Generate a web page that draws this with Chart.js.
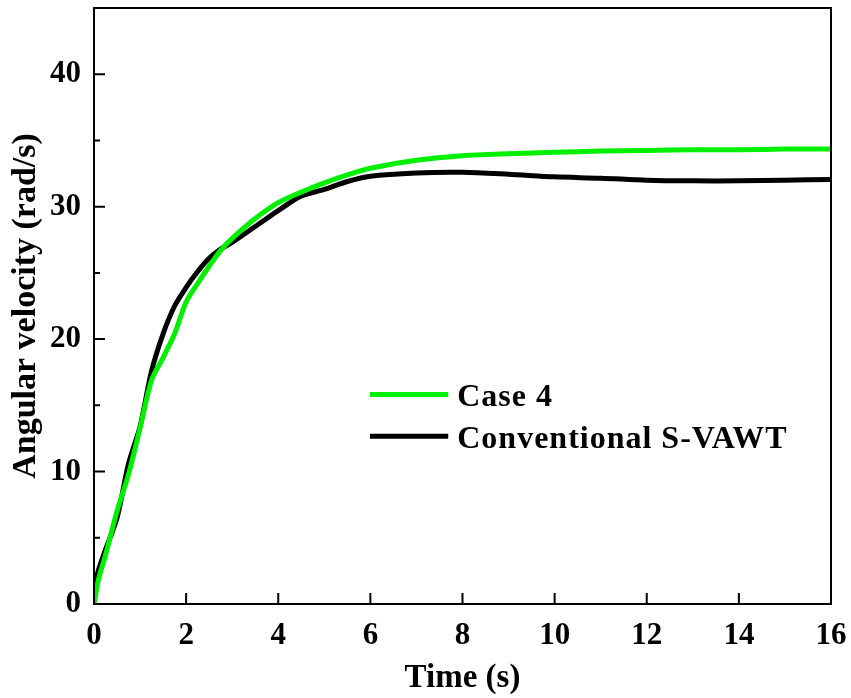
<!DOCTYPE html>
<html>
<head>
<meta charset="utf-8">
<script src="https://cdn.jsdelivr.net/npm/chart.js@4.4.1/dist/chart.umd.min.js"></script>
<style>
html,body{margin:0;padding:0;background:#fff;}
#wrap{width:851px;height:698px;}
</style>
</head>
<body>
<div id="wrap"><canvas id="c" width="851" height="698"></canvas></div>
<script>
const time = [0,0.05,0.1,0.25,0.5,0.75,1.0,1.25,1.5,1.75,2.0,2.25,2.5,2.75,3.0,3.5,4.0,4.5,5.0,5.5,6,7,8,9,10,11,12,13,14,15,16];
const case4 = [0,1.0,1.9,3.7,7.0,9.8,13.3,16.9,18.6,20.4,22.8,24.2,25.5,26.7,27.6,29.1,30.3,31.1,31.8,32.4,32.9,33.5,33.85,34.0,34.1,34.2,34.25,34.3,34.3,34.35,34.35];
const conventional = [0.5,1.8,2.6,4.1,6.5,10.6,13.4,17.6,20.4,22.5,23.9,25.1,26.1,26.8,27.3,28.5,29.7,30.8,31.3,31.9,32.3,32.55,32.6,32.45,32.25,32.15,32.0,31.95,31.95,32.0,32.05];
const xTicks = [0,2,4,6,8,10,12,14,16];
const yTicks = [0,10,20,30,40];
const yMinorTicks = [5,15,25,35];
const seriesNames = ['Case 4','Conventional S-VAWT'];
const seriesColors = ['#00f000','#000000'];

const FONT = 'Liberation Serif, "Times New Roman", serif';

const framePlugin = {
  id:'frame',
  afterDraw(chart){
    const ctx = chart.ctx, a = chart.chartArea;
    const xs = chart.scales.x, ys = chart.scales.y;
    ctx.save();
    ctx.strokeStyle='#000'; ctx.lineWidth=2;
    ctx.strokeRect(a.left, a.top, a.right-a.left, a.bottom-a.top);
    ctx.beginPath();
    xTicks.forEach(v=>{const p=xs.getPixelForValue(v); ctx.moveTo(p,a.bottom); ctx.lineTo(p,a.bottom-11);});
    yTicks.forEach(v=>{const p=ys.getPixelForValue(v); ctx.moveTo(a.left,p); ctx.lineTo(a.left+11,p);});
    yMinorTicks.forEach(v=>{const p=ys.getPixelForValue(v); ctx.moveTo(a.left,p); ctx.lineTo(a.left+6,p);});
    ctx.stroke();
    // legend
    const lx1 = xs.getPixelForValue(5.99), lx2 = xs.getPixelForValue(7.69);
    const ly = [ys.getPixelForValue(15.82), ys.getPixelForValue(12.66)];
    ctx.font = 'bold 32px '+FONT;
    ctx.textBaseline='middle';
    if ('letterSpacing' in ctx) ctx.letterSpacing = '1px';
    chart.data.datasets.forEach((d,i)=>{
      ctx.strokeStyle=d.borderColor; ctx.lineWidth=5;
      ctx.beginPath(); ctx.moveTo(lx1,ly[i]); ctx.lineTo(lx2,ly[i]); ctx.stroke();
      ctx.fillStyle='#000';
      ctx.fillText(d.label, lx2+9, ly[i]+3);
    });
    ctx.restore();
  }
};

function fixPad(s){s.paddingTop=0;s.paddingBottom=0;s.paddingLeft=0;s.paddingRight=0;}

new Chart(document.getElementById('c'),{
  type:'line',
  data:{
    datasets:[
      {label:seriesNames[0], data:time.map((t,i)=>({x:t,y:case4[i]})), borderColor:seriesColors[0], borderWidth:5, pointRadius:0, tension:0.3, fill:false},
      {label:seriesNames[1], data:time.map((t,i)=>({x:t,y:conventional[i]})), borderColor:seriesColors[1], borderWidth:5, pointRadius:0, tension:0.3, fill:false}
    ]
  },
  options:{
    responsive:false, animation:false,
    layout:{padding:{top:8,right:20,left:0,bottom:0}},
    plugins:{legend:{display:false}, tooltip:{enabled:false}},
    scales:{
      x:{type:'linear', min:0, max:16,
        afterBuildTicks(s){s.ticks = xTicks.map(v=>({value:v}));},
        afterFit(s){s.height=94; fixPad(s);},
        grid:{display:false, drawTicks:false}, border:{display:false},
        ticks:{color:'#000', font:{family:FONT, size:31, weight:'bold'}, padding:13, maxRotation:0},
        title:{display:true, text:'Time (s)', color:'#000', font:{family:FONT, size:33, weight:'bold'}, padding:{top:2,bottom:0}}
      },
      y:{type:'linear', min:0, max:45,
        afterBuildTicks(s){s.ticks = yTicks.map(v=>({value:v}));},
        afterFit(s){s.width=94; fixPad(s);},
        grid:{display:false, drawTicks:false}, border:{display:false},
        ticks:{color:'#000', font:{family:FONT, size:31, weight:'bold'}, padding:13},
        title:{display:true, text:'Angular velocity (rad/s)', color:'#000', font:{family:FONT, size:34, weight:'bold'}, padding:{top:6,bottom:0}}
      }
    }
  },
  plugins:[framePlugin]
});
</script>
</body>
</html>
